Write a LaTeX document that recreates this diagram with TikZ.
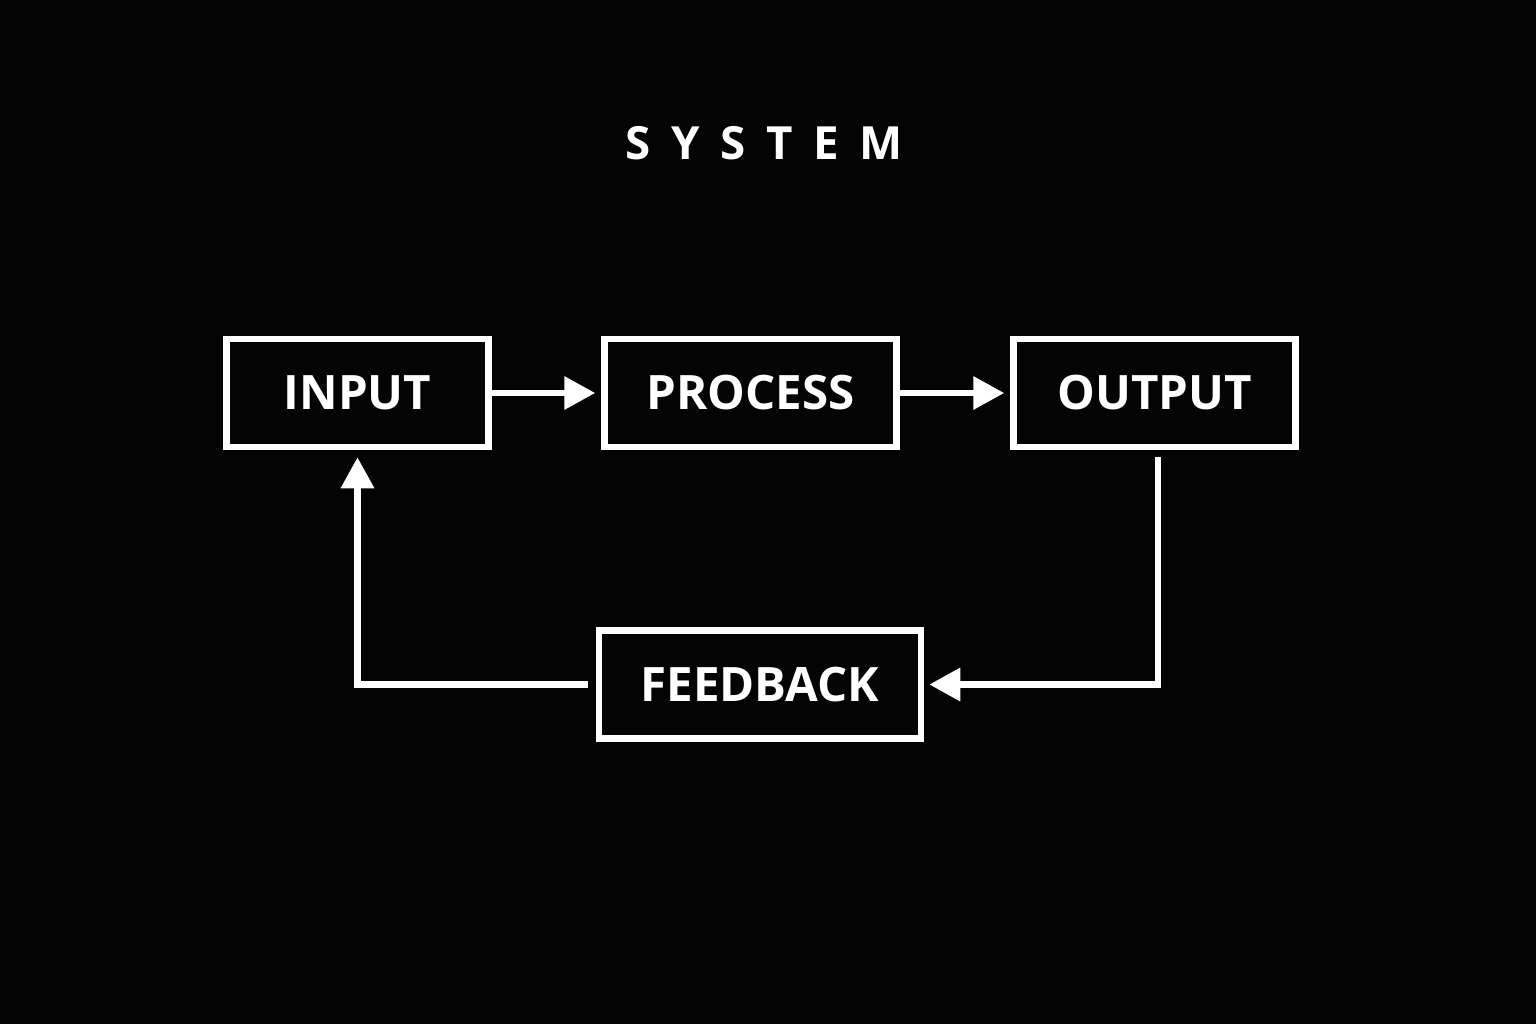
\documentclass[tikz,border=0pt]{standalone}
\usepackage{fontspec}
\setmainfont{Open Sans}
\usepackage{xcolor}
\definecolor{SysBlack}{RGB}{4,4,4}
\usetikzlibrary{arrows.meta, positioning, calc}
\tikzset{
	block/.style={draw=white, line width=0.065cm, text=white, font=\bfseries\fontsize{13.5}{15}\selectfont,
		minimum height=1.08cm, inner sep=0pt},
	flow/.style={draw=white, line width=0.065cm, -{Triangle[length=0.31cm, width=0.32cm]}},
}

\begin{document}
\begin{tikzpicture}
	\fill[SysBlack] (0,0) rectangle (15.36,-10.24);
	\useasboundingbox (0,0) rectangle (15.36,-10.24);
	% title
	\node[text=white, font=\bfseries\fontsize{13}{15}\selectfont\addfontfeature{LetterSpace=45}] (title) at (7.64,-1.43) {SYSTEM};
	% blocks of the loop
	\foreach \n/\x/\y/\w/\lab in {
		inp/3.575/-3.93/2.62/INPUT,
		proc/7.505/-3.93/2.92/PROCESS,
		outp/11.545/-3.93/2.82/OUTPUT,
		fb/7.60/-6.845/3.22/FEEDBACK}{
		\node[block, minimum width=\w cm] (\n) at (\x,\y) {\lab};
	}
	% connectors
	\draw[flow, shorten >=0.06cm] (inp.east) -- (proc.west);
	\draw[flow, shorten >=0.06cm] (proc.east) -- (outp.west);
	\coordinate (down) at ($(outp.south)+(0.035,-0.07)$);
	\draw[flow, shorten >=0.05cm] (down) |- (fb.east);
	\coordinate (back) at ($(fb.west)+(-0.08,0)$);
	\draw[flow, shorten >=0.07cm] (back) -| (inp.south);
\end{tikzpicture}
\end{document}
